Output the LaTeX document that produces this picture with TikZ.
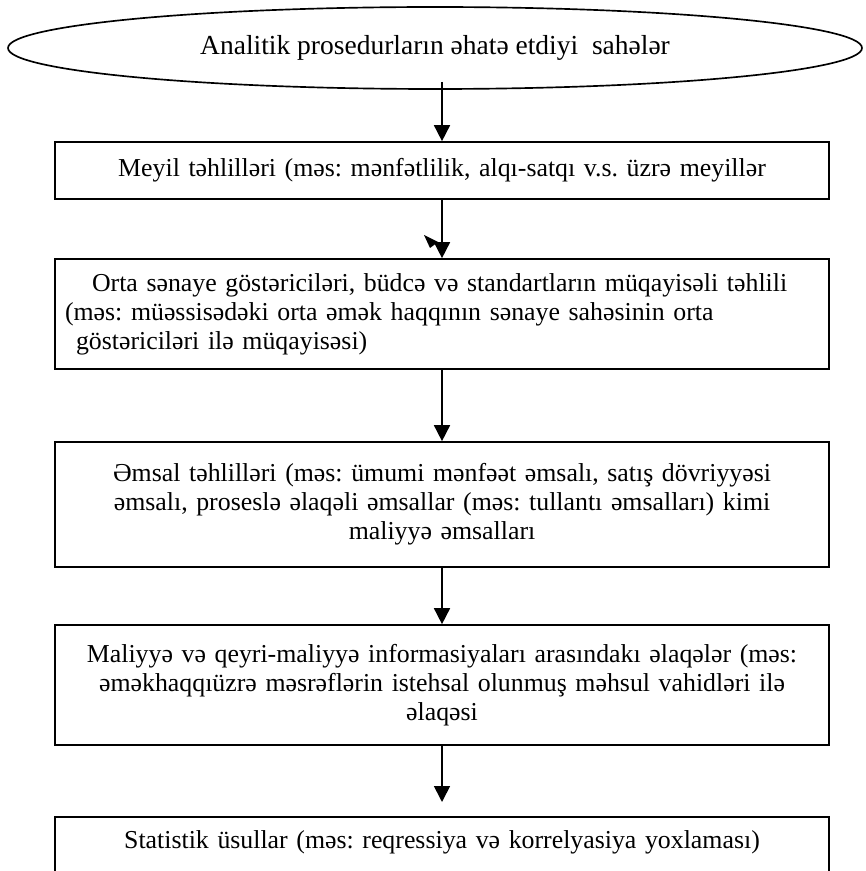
\documentclass[tikz,border=0pt]{standalone}
\usepackage{fontspec}
\setmainfont{Liberation Serif}
\frenchspacing
\usetikzlibrary{shapes.geometric,arrows.meta}
\tikzset{
  procbox/.style={draw, line width=1pt, text width=452.4pt, inner xsep=6pt,
    align=center, font=\fontsize{15.5}{17.5}\selectfont},
  flow/.style={-{Triangle[width=9.6pt,length=9.6pt]}, line width=1pt},
}
\begin{document}
\begin{tikzpicture}[x=0.6pt,y=-0.6pt]
  \clip (0,0) rectangle (866,871);
  \node[ellipse, draw, line width=1pt, minimum width=512.4pt, minimum height=49.2pt,
    font=\fontsize{16.5}{18}\selectfont] (title) at (435,48)
    {Analitik prosedurların əhatə etdiyi \ sahələr};
  \node[procbox, minimum height=34.2pt] (meyil) at (442,170.5)
    {Meyil təhlilləri (məs: mənfətlilik, alqı-satqı v.s. üzrə meyillər};
  \node[procbox, align=left, minimum height=66pt] (orta) at (442,314)
    {\hspace*{16.2pt}Orta sənaye göstəriciləri, büdcə və standartların müqayisəli təhlili\\
     (məs: müəssisədəki orta əmək haqqının sənaye sahəsinin orta\\
     \hspace*{6.6pt}göstəriciləri ilə müqayisəsi)};
  \node[procbox, minimum height=75pt] (emsal) at (442,504.5)
    {Əmsal təhlilləri (məs: ümumi mənfəət əmsalı, satış dövriyyəsi\\
     əmsalı, proseslə əlaqəli əmsallar (məs: tullantı əmsalları) kimi\\
     maliyyə əmsalları};
  \node[procbox, minimum height=72pt] (malinf) at (442,685)
    {Maliyyə və qeyri-maliyyə informasiyaları arasındakı əlaqələr (məs:\\
     əməkhaqqıüzrə məsrəflərin istehsal olunmuş məhsul vahidləri ilə\\
     əlaqəsi};
  \node[procbox, anchor=north, inner ysep=8pt, text depth=40pt] (stat) at (442,816)
    {Statistik üsullar (məs: reqressiya və korrelyasiya yoxlaması)};

  % arrows
  \draw[flow, shorten <=-4.8pt] (title.south -| meyil.north) -- (meyil.north);
  \draw[flow] (meyil) -- (orta);
  \fill (424,235) -- (438,242) -- (430,248) -- cycle;
  \draw[flow] (orta) -- (emsal);
  \draw[flow] (emsal) -- (malinf);
  \draw[flow, shorten >=8.4pt] (malinf) -- (stat);
\end{tikzpicture}
\end{document}
